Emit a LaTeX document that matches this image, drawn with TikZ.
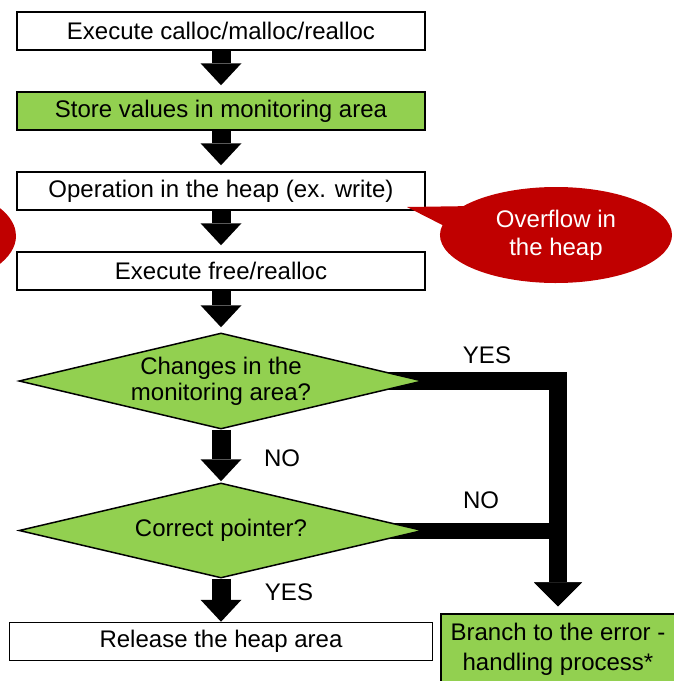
\documentclass[tikz,border=0pt]{standalone}
\usepackage{fontspec}
\setmainfont{Liberation Sans}
\usetikzlibrary{arrows.meta}
\usetikzlibrary{shapes.geometric}
\usetikzlibrary{shapes.callouts}
\definecolor{stepgreen}{HTML}{92D050}
\definecolor{alertred}{HTML}{C00000}
\pgfdeclarelayer{back}
\pgfsetlayers{back,main}
\tikzset{
	box/.style={draw, line width=1.5pt, fill=white, minimum width=408pt, minimum height=38pt, inner sep=0pt, align=center, font=\fontsize{24}{30}\selectfont},
	test/.style={diamond, draw, line width=1.5pt, fill=stepgreen, aspect=4.2, minimum width=404pt, minimum height=96pt, inner sep=0pt, align=center, font=\fontsize{24}{26}\selectfont},
	bubble/.style={ellipse callout, fill=alertred, text=white, minimum width=232pt, minimum height=96pt, inner sep=0pt, align=center, font=\fontsize{24}{28}\selectfont},
	lbl/.style={font=\fontsize{24}{28}\selectfont},
	flow/.style={line width=19pt, -{Triangle[length=22pt, width=41pt, line width=0pt]}},
	branch/.style={line width=18pt, -{Triangle[length=24pt, width=48pt, line width=0pt]}, shorten >=7pt}
}
\begin{document}
\begin{tikzpicture}[x=1pt, y=-1pt]
		\newcommand{\cx}{221}
		\useasboundingbox (0,0) rectangle (673,681);
		
		\node[box] (exec) at (\cx, 31) {Execute calloc/malloc/realloc};
		\node[box, fill=stepgreen] (store) at (\cx, 111) {Store values in monitoring area};
		\node[box] (oper) at (\cx, 191) {Operation in the heap (ex. write)};
		\node[box] (free) at (\cx, 271) {Execute free/realloc};
		
		\node[test] (chg) at (\cx, 381) {Changes in the\\monitoring area?};
		\node[test, minimum height=95pt] (ptr) at (\cx, 530.5) {Correct pointer?};
		
		\node[box, minimum width=423pt] (rel) at (\cx, 641.5) {Release the heap area};
		\node[box, fill=stepgreen, minimum width=234pt, minimum height=70pt] (err) at (558, 649) {Branch to the error -\\handling process*};
		
		\node[bubble, callout absolute pointer={(407,207)}, callout pointer arc=25] (over) at (556, 235) {Overflow in\\the heap};
		\node[bubble, minimum height=110pt] (under) at (-100, 236) {};
		
		\node[lbl] (yes1) at (487, 355) {YES};
		\node[lbl] (no1) at (282, 458) {NO};
		\node[lbl] (no2) at (481, 500) {NO};
		\node[lbl] (yes2) at (289, 592) {YES};
		
		\begin{pgfonlayer}{back}
			\draw[flow, shorten >=6pt] (exec) to (store);
			\draw[flow, shorten >=6pt] (store) to (oper);
			\draw[flow, shorten >=6pt] (oper) to (free);
			\draw[flow, shorten >=5pt] (free) to (chg);
			\draw[flow, shorten >=1pt] (chg) to (ptr);
			\draw[flow] (ptr) to (rel);
			\draw[branch] (chg.center) -| (err.north);
			\draw[branch, line width=16pt] (ptr.center) -| (err.north);
		\end{pgfonlayer}
	\end{tikzpicture}
\end{document}
